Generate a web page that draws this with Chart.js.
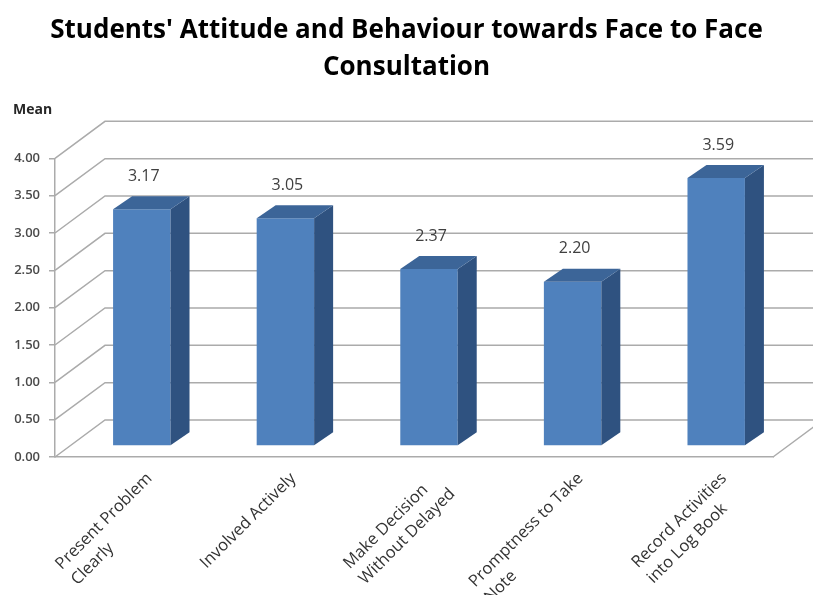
<!DOCTYPE html>
<html lang="en">
<head>
    <meta charset="UTF-8">
    <title>Students' Attitude and Behaviour towards Face to Face Consultation</title>
    <script src="https://cdn.jsdelivr.net/npm/chart.js"></script>
    <style>
        body {
            margin: 0;
            background: #fff;
        }
        #chart-wrap {
            width: 813px;
            height: 595px;
        }
    </style>
</head>
<body>
    <div id="chart-wrap">
        <canvas id="attitude-chart" width="813" height="595"></canvas>
    </div>

    <script>
        // Chart data
        const categories = [
            ['Present Problem', 'Clearly'],
            ['Involved Actively'],
            ['Make Decision', 'Without Delayed'],
            ['Promptness to Take', 'Note'],
            ['Record Activities', 'into Log Book']
        ];
        const meanValues = [3.17, 3.05, 2.37, 2.20, 3.59];
        const yMin = 0;
        const yMax = 4;
        const yStep = 0.5;

        // 3D look: depth of back wall, position and depth of the bars
        const WALL_DX = 50, WALL_DY = 37;
        const BAR_DX = 15, BAR_DY = 11;
        const SIDE_DX = 19, SIDE_DY = 13;

        const threeDPlugin = {
            id: 'threeD',
            beforeDatasetsDraw(chart) {
                const ctx = chart.ctx;
                const y = chart.scales.y;
                const area = chart.chartArea;
                ctx.save();
                ctx.strokeStyle = '#ababab';
                ctx.lineWidth = 1.5;
                for (let v = yMin; v <= yMax + 1e-9; v += yStep) {
                    const py = y.getPixelForValue(v);
                    ctx.beginPath();
                    ctx.moveTo(area.left, py);
                    ctx.lineTo(area.left + WALL_DX, py - WALL_DY);
                    ctx.lineTo(area.right + WALL_DX, py - WALL_DY);
                    ctx.stroke();
                }
                // right edge of the floor
                ctx.beginPath();
                ctx.moveTo(area.right, area.bottom);
                ctx.lineTo(area.right + WALL_DX, area.bottom - WALL_DY);
                ctx.stroke();
                ctx.restore();
            },
            beforeDatasetDraw(chart) {
                chart.ctx.save();
                chart.ctx.translate(BAR_DX, -BAR_DY);
            },
            afterDatasetDraw(chart, args) {
                const ctx = chart.ctx;
                args.meta.data.forEach((bar, i) => {
                    const left = bar.x - bar.width / 2;
                    const right = bar.x + bar.width / 2;
                    const top = bar.y;
                    const bottom = bar.base;

                    // side face
                    ctx.fillStyle = '#2f5280';
                    ctx.beginPath();
                    ctx.moveTo(right, top);
                    ctx.lineTo(right + SIDE_DX, top - SIDE_DY);
                    ctx.lineTo(right + SIDE_DX, bottom - SIDE_DY);
                    ctx.lineTo(right, bottom);
                    ctx.closePath();
                    ctx.fill();

                    // top face
                    ctx.fillStyle = '#3c6598';
                    ctx.beginPath();
                    ctx.moveTo(left, top);
                    ctx.lineTo(left + SIDE_DX, top - SIDE_DY);
                    ctx.lineTo(right + SIDE_DX, top - SIDE_DY);
                    ctx.lineTo(right, top);
                    ctx.closePath();
                    ctx.fill();

                    // value label
                    ctx.fillStyle = '#404040';
                    ctx.font = '16px "Open Sans"';
                    ctx.textAlign = 'center';
                    ctx.textBaseline = 'middle';
                    ctx.fillText(meanValues[i].toFixed(2), bar.x + 2, top - SIDE_DY - 20);
                });
                ctx.restore();
            },
            afterDraw(chart) {
                const ctx = chart.ctx;
                const x = chart.scales.x;
                const area = chart.chartArea;
                ctx.save();

                // "Mean" axis caption
                ctx.fillStyle = '#262626';
                ctx.font = 'bold 14px "Open Sans"';
                ctx.textAlign = 'left';
                ctx.textBaseline = 'middle';
                ctx.fillText('Mean', 13, 110);

                // rotated category labels, lines left aligned, block ends near the tick
                ctx.font = '16.5px "Open Sans"';
                ctx.fillStyle = '#333333';
                ctx.textAlign = 'left';
                ctx.textBaseline = 'middle';
                const lineH = 22;
                categories.forEach((lines, i) => {
                    const px = x.getPixelForValue(i);
                    const w = Math.max(...lines.map(l => ctx.measureText(l).width));
                    ctx.save();
                    ctx.translate(px + 15, area.bottom + 11);
                    ctx.rotate(-Math.PI / 4);
                    lines.forEach((l, j) => {
                        ctx.fillText(l, -w, j * lineH + lineH / 2);
                    });
                    ctx.restore();
                });
                ctx.restore();
            }
        };

        const ctx = document.getElementById('attitude-chart').getContext('2d');
        const attitudeChart = new Chart(ctx, {
            type: 'bar',
            data: {
                labels: categories,
                datasets: [{
                    label: 'Mean',
                    data: meanValues,
                    backgroundColor: '#4f81bd',
                    borderWidth: 0,
                    barPercentage: 0.4,
                    categoryPercentage: 1,
                    clip: false
                }]
            },
            options: {
                responsive: false,
                animation: false,
                layout: {
                    padding: 0
                },
                plugins: {
                    legend: { display: false },
                    tooltip: { enabled: false },
                    title: {
                        display: true,
                        text: ["Students' Attitude and Behaviour towards Face to Face", 'Consultation'],
                        color: '#000',
                        font: { family: 'Open Sans', size: 26, weight: 'bold', lineHeight: 1.43 },
                        padding: { top: 12, bottom: 72 }
                    }
                },
                scales: {
                    x: {
                        grid: { display: false },
                        border: { display: true, color: '#ababab', width: 1.5 },
                        ticks: { display: false },
                        afterFit(scale) { scale.height = 138; }
                    },
                    y: {
                        min: yMin,
                        max: yMax,
                        ticks: {
                            stepSize: yStep,
                            padding: 9,
                            color: '#4a4a4a',
                            font: { family: 'Open Sans', size: 13, weight: '600' },
                            callback: v => Number(v).toFixed(2)
                        },
                        grid: { drawOnChartArea: false, drawTicks: true, tickLength: 6, color: '#ababab', lineWidth: 1.5 },
                        border: { display: true, color: '#ababab', width: 1.5 },
                        afterFit(scale) { scale.width = 55; }
                    },
                    // empty strip on the right, where the back wall runs out
                    yRight: {
                        position: 'right',
                        grid: { display: false },
                        border: { display: false },
                        ticks: { display: false },
                        afterFit(scale) { scale.width = 40; }
                    }
                }
            },
            plugins: [threeDPlugin]
        });
    </script>
</body>
</html>
